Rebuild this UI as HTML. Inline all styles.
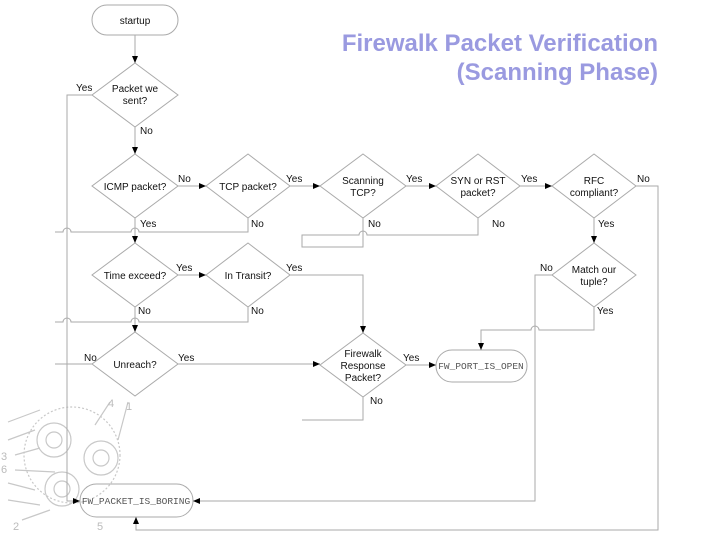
<!DOCTYPE html>
<html><head><meta charset="utf-8"><style>
html,body{margin:0;padding:0;background:#fff;}
svg{display:block;}
text{font-family:"Liberation Sans",sans-serif;font-size:10px;fill:#111;}
.m{font-family:"Liberation Mono",monospace;font-size:9.5px;fill:#555;}
.t{font-size:24px;font-weight:bold;fill:#9a9ae0;}
</style></head><body>
<svg width="720" height="540" viewBox="0 0 720 540" xmlns="http://www.w3.org/2000/svg">
<defs><marker id="a" markerWidth="8" markerHeight="8" refX="7" refY="4" orient="auto" markerUnits="userSpaceOnUse"><path d="M0,1 L7,4 L0,7z" fill="#000"/></marker></defs>
<g fill="none" stroke="#c8c8c8" stroke-width="1.2">
<circle cx="72" cy="455" r="48" stroke-dasharray="2 2"/>
<circle cx="54" cy="440" r="17"/><circle cx="54" cy="440" r="8"/>
<circle cx="101" cy="458" r="17"/><circle cx="101" cy="458" r="8"/>
<circle cx="62" cy="489" r="17"/><circle cx="62" cy="489" r="8"/>
<path d="M8,422 L40,410 M8,440 L35,430 M8,483 L35,490 M8,500 L40,505"/>
<path d="M110,402 L95,425 M128,402 L118,440 M15,455 L40,448 M15,470 L55,472 M22,520 L50,510"/>
</g>
<g><text x="108" y="407" style="fill:#bbb;font-size:11px">4</text><text x="126" y="410" style="fill:#bbb;font-size:11px">1</text><text x="1" y="460" style="fill:#bbb;font-size:11px">3</text><text x="1" y="473" style="fill:#bbb;font-size:11px">6</text><text x="13" y="530" style="fill:#bbb;font-size:11px">2</text><text x="97" y="530" style="fill:#bbb;font-size:11px">5</text></g>

<text class="t" x="658" y="51" text-anchor="end">Firewalk Packet Verification</text>
<text class="t" x="658" y="80" text-anchor="end">(Scanning Phase)</text>

<g fill="none" stroke="#aaa" stroke-width="1">
<rect x="92" y="5" width="86" height="30" rx="15"/>
<path d="M135,63 L178,95 L135,127 L92,95Z"/>
<path d="M135,154 L178,186 L135,218 L92,186Z"/>
<path d="M248,154 L290,186 L248,218 L206,186Z"/>
<path d="M363,154 L406,186 L363,218 L320,186Z"/>
<path d="M478,154 L520,186 L478,218 L436,186Z"/>
<path d="M594,154 L636,186 L594,218 L552,186Z"/>
<path d="M135,243 L178,275 L135,307 L92,275Z"/>
<path d="M248,243 L290,275 L248,307 L206,275Z"/>
<path d="M594,243 L636,275 L594,307 L552,275Z"/>
<path d="M135,332 L178,364 L135,396 L92,364Z"/>
<path d="M363,333 L406,365 L363,397 L320,365Z"/>
<rect x="436" y="350" width="91" height="32" rx="16"/>
<rect x="80" y="484" width="113" height="33" rx="16.5"/>
<path d="M135,35 L135,63" marker-end="url(#a)"/>
<path d="M92,95 L67,95 L67,501 L80,501" marker-end="url(#a)"/>
<path d="M135,127 L135,154" marker-end="url(#a)"/>
<path d="M178,186 L206,186" marker-end="url(#a)"/>
<path d="M290,186 L320,186" marker-end="url(#a)"/>
<path d="M406,186 L436,186" marker-end="url(#a)"/>
<path d="M520,186 L552,186" marker-end="url(#a)"/>
<path d="M135,218 L135,243" marker-end="url(#a)"/>
<path d="M55,232 L63,232 A4,4 0 0 1 71,232 L131,232 A4,4 0 0 1 139,232 L248,232 L248,218"/>
<path d="M178,275 L206,275" marker-end="url(#a)"/>
<path d="M135,307 L135,332" marker-end="url(#a)"/>
<path d="M55,322 L63,322 A4,4 0 0 1 71,322 L131,322 A4,4 0 0 1 139,322 L248,322 L248,307"/>
<path d="M290,275 L363,275 L363,333" marker-end="url(#a)"/>
<path d="M363,218 L363,247 L302,247 L302,235 L359,235 A4,4 0 0 1 367,235 L478,235 L478,218"/>
<path d="M594,218 L594,243" marker-end="url(#a)"/>
<path d="M636,186 L658,186 L658,530 L136,530 L136,517" marker-end="url(#a)"/>
<path d="M552,275 L535,275 L535,501 L193,501" marker-end="url(#a)"/>
<path d="M594,307 L594,330 L539,330 A4,4 0 0 0 531,330 L481,330 L481,350" marker-end="url(#a)"/>
<path d="M55,364 L92,364"/>
<path d="M178,364 L320,364" marker-end="url(#a)"/>
<path d="M406,365 L436,365" marker-end="url(#a)"/>
<path d="M363,397 L363,420 L302,420"/>
</g>

<g text-anchor="middle">
<text x="135" y="24">startup</text>
<text x="135" y="92">Packet we</text><text x="135" y="104">sent?</text>
<text x="135" y="190">ICMP packet?</text>
<text x="248" y="190">TCP packet?</text>
<text x="363" y="184">Scanning</text><text x="363" y="196">TCP?</text>
<text x="478" y="184">SYN or RST</text><text x="478" y="196">packet?</text>
<text x="594" y="184">RFC</text><text x="594" y="196">compliant?</text>
<text x="135" y="279">Time exceed?</text>
<text x="248" y="279">In Transit?</text>
<text x="594" y="273">Match our</text><text x="594" y="285">tuple?</text>
<text x="135" y="368">Unreach?</text>
<text x="363" y="357">Firewalk</text><text x="363" y="369">Response</text><text x="363" y="381">Packet?</text>
<text class="m" x="481" y="369">FW_PORT_IS_OPEN</text>
<text class="m" x="136" y="504">FW_PACKET_IS_BORING</text>
</g>
<g>
<text x="76" y="91">Yes</text>
<text x="140" y="134">No</text>
<text x="178" y="182">No</text>
<text x="286" y="182">Yes</text>
<text x="406" y="182">Yes</text>
<text x="521" y="182">Yes</text>
<text x="637" y="182">No</text>
<text x="140" y="227">Yes</text>
<text x="251" y="227">No</text>
<text x="368" y="227">No</text>
<text x="492" y="227">No</text>
<text x="598" y="227">Yes</text>
<text x="176" y="271">Yes</text>
<text x="286" y="271">Yes</text>
<text x="540" y="271">No</text>
<text x="138" y="314">No</text>
<text x="251" y="314">No</text>
<text x="597" y="314">Yes</text>
<text x="84" y="361">No</text>
<text x="178" y="361">Yes</text>
<text x="403" y="361">Yes</text>
<text x="370" y="404">No</text>
</g>
</svg>
</body></html>
